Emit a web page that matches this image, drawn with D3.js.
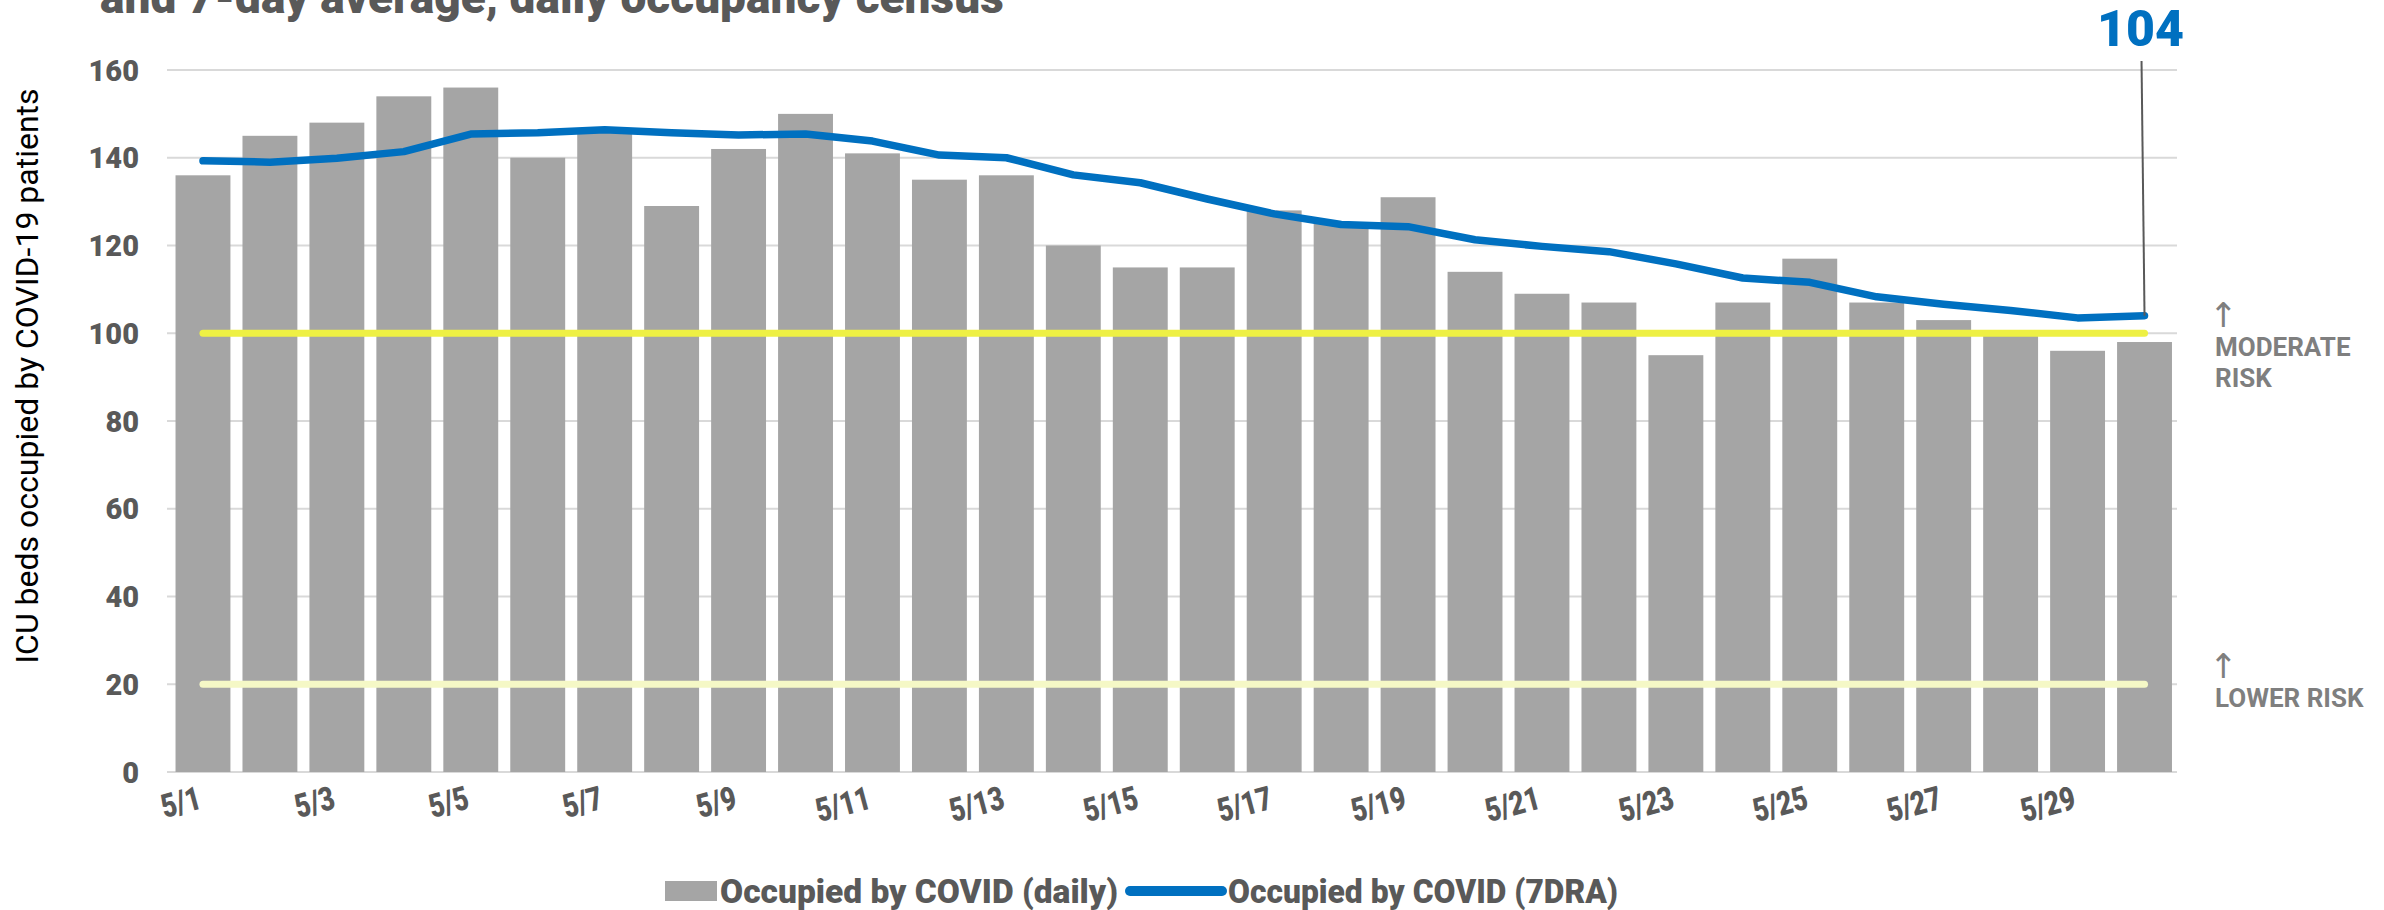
<!DOCTYPE html>
<html>
<head>
<meta charset="utf-8">
<script src="https://cdn.jsdelivr.net/npm/d3@7"></script>
<style>
  html, body { margin: 0; padding: 0; background: #fff; }
  svg { display: block; }
  text { font-family: Roboto, "Open Sans", sans-serif; }
</style>
</head>
<body>
<svg id="chart" width="2384" height="910"></svg>
<script>
const dates = ["5/1","5/2","5/3","5/4","5/5","5/6","5/7","5/8","5/9","5/10",
  "5/11","5/12","5/13","5/14","5/15","5/16","5/17","5/18","5/19","5/20",
  "5/21","5/22","5/23","5/24","5/25","5/26","5/27","5/28","5/29","5/30"];
const dailyValues = [136,145,148,154,156,140,146,129,142,150,
  141,135,136,120,115,115,128,125,131,114,
  109,107,95,107,117,107,103,100,96,98];
const avgValues = [139.3,139.0,139.9,141.4,145.4,145.7,146.4,145.7,145.2,145.4,
  143.8,140.6,140.0,136.1,134.3,130.6,127.2,124.8,124.3,121.3,
  119.8,118.6,115.8,112.6,111.6,108.3,106.6,105.2,103.5,104.0];
const xTickLabels = ["5/1","5/3","5/5","5/7","5/9","5/11","5/13","5/15","5/17","5/19","5/21","5/23","5/25","5/27","5/29"];
const yTicks = [0,20,40,60,80,100,120,140,160];
const thresholds = [
  { value: 100, color: "#EEF044", lines: ["MODERATE", "RISK"] },
  { value: 20, color: "#F5F8C6", lines: ["LOWER RISK"] }
];
const titleText = "and 7-day average, daily occupancy census";
const yAxisTitle = "ICU beds occupied by COVID-19 patients";
const legendLabels = ["Occupied by COVID (daily)", "Occupied by COVID (7DRA)"];
const annotationValue = "104";

const svg = d3.select("#chart");
const gridLeft = 167, gridRight = 2177;
const x = d3.scaleBand().domain(dates).range([169.5, 2178]).paddingInner(0.18).paddingOuter(0.09);
const y = d3.scaleLinear().domain([0, 160]).range([772, 70]);
const cx = d => x(d) + x.bandwidth() / 2;

// title (partially cut off at top, as in the reference)
svg.append("text").attr("x", 100).attr("y", 13)
  .attr("font-size", 46).attr("font-weight", 900).attr("fill", "#595959")
  .text(titleText);

// gridlines
svg.append("g").selectAll("line").data(yTicks).join("line")
  .attr("x1", gridLeft).attr("x2", gridRight)
  .attr("y1", d => y(d)).attr("y2", d => y(d))
  .attr("stroke", "#D9D9D9").attr("stroke-width", 2);

// y axis
const yAxis = svg.append("g").attr("transform", `translate(${gridLeft},0)`)
  .call(d3.axisLeft(y).tickValues(yTicks).tickSize(0).tickPadding(28));
yAxis.select(".domain").remove();
yAxis.selectAll("text").attr("font-size", 29).attr("font-weight", 900)
  .attr("fill", "#595959").attr("font-family", "Roboto, sans-serif").attr("dy", "0.35em");

// y axis title
svg.append("text").attr("transform", "translate(38,376) rotate(-90)")
  .attr("text-anchor", "middle").attr("font-size", 32).attr("fill", "#000")
  .text(yAxisTitle);

// bars
svg.append("g").selectAll("rect").data(dates).join("rect")
  .attr("x", d => x(d)).attr("width", x.bandwidth())
  .attr("y", (d, i) => y(dailyValues[i]))
  .attr("height", (d, i) => y(0) - y(dailyValues[i]))
  .attr("fill", "#A5A5A5");

// threshold lines
svg.append("g").selectAll("line").data(thresholds).join("line")
  .attr("x1", cx(dates[0])).attr("x2", cx(dates[dates.length - 1]))
  .attr("y1", d => y(d.value)).attr("y2", d => y(d.value))
  .attr("stroke", d => d.color).attr("stroke-width", 7).attr("stroke-linecap", "round");

// 7-day average line
const line = d3.line().x((d, i) => cx(dates[i])).y(d => y(d));
svg.append("path").datum(avgValues).attr("d", line)
  .attr("fill", "none").attr("stroke", "#0070C0").attr("stroke-width", 7.5)
  .attr("stroke-linejoin", "round").attr("stroke-linecap", "round");

// x axis labels
const xAxis = svg.append("g").attr("transform", `translate(0,${y(0)})`)
  .call(d3.axisBottom(x).tickValues(xTickLabels).tickSize(0));
xAxis.select(".domain").remove();
xAxis.selectAll("text")
  .attr("font-size", 33).attr("font-weight", 900).attr("fill", "#595959")
  .attr("font-family", "Roboto, sans-serif")
  .attr("text-anchor", "end").attr("x", 0).attr("y", 0).attr("dy", 0)
  .attr("transform", "translate(0,36) rotate(-15) scale(0.8,1)");

// annotation
const lastDate = dates[dates.length - 1];
svg.append("line").attr("x1", cx(lastDate) - 3).attr("y1", 61)
  .attr("x2", cx(lastDate)).attr("y2", y(avgValues[avgValues.length - 1]))
  .attr("stroke", "#595959").attr("stroke-width", 2);
svg.append("text").attr("x", cx(lastDate) - 4).attr("y", 46)
  .attr("text-anchor", "middle").attr("font-size", 50).attr("font-weight", 900)
  .attr("fill", "#0070C0").text(annotationValue);

// right risk labels: arrow + label lines in one multi-line text
thresholds.forEach(t => {
  const ty = y(t.value);
  const txt = svg.append("text").attr("fill", "#7F7F7F");
  txt.append("tspan").attr("x", 2209).attr("y", ty - 6)
    .attr("font-family", "DejaVu Sans").attr("font-size", 34).attr("font-weight", 400)
    .text("↑");
  t.lines.forEach((l, i) => {
    txt.append("tspan").attr("x", 2215).attr("y", ty + 23 + i * 31)
      .attr("font-size", 26).attr("font-weight", 700).text(l);
  });
});

// legend
const lg = svg.append("g");
lg.append("rect").attr("x", 665).attr("y", 881).attr("width", 52).attr("height", 20).attr("fill", "#A5A5A5");
lg.append("text").attr("x", 720).attr("y", 903).attr("font-size", 33).attr("font-weight", 900)
  .attr("fill", "#595959").attr("textLength", 398).attr("lengthAdjust", "spacingAndGlyphs").text(legendLabels[0]);
lg.append("line").attr("x1", 1130).attr("x2", 1222).attr("y1", 891).attr("y2", 891)
  .attr("stroke", "#0070C0").attr("stroke-width", 10).attr("stroke-linecap", "round");
lg.append("text").attr("x", 1228).attr("y", 903).attr("font-size", 33).attr("font-weight", 900)
  .attr("fill", "#595959").attr("textLength", 390).attr("lengthAdjust", "spacingAndGlyphs").text(legendLabels[1]);
</script>
</body>
</html>
